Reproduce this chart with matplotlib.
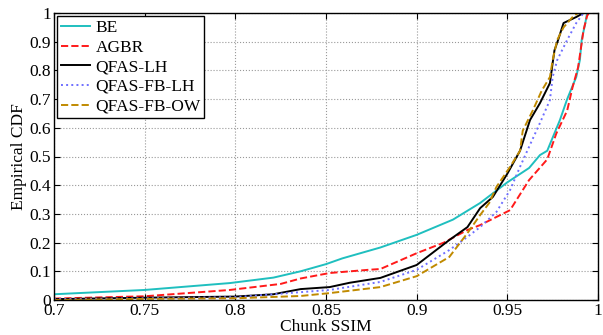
import matplotlib
matplotlib.use('Agg')
import matplotlib.pyplot as plt

# points (chunk SSIM, cumulative fraction)
be_x = [0.70, 0.75, 0.797, 0.821, 0.836, 0.850, 0.859, 0.880, 0.900, 0.920,
        0.935, 0.950, 0.962, 0.968, 0.972, 0.979, 0.983, 0.988, 0.990, 0.991,
        0.993, 0.994]
be_y = [0.020, 0.035, 0.059, 0.078, 0.100, 0.125, 0.145, 0.183, 0.227, 0.280,
        0.338, 0.410, 0.460, 0.505, 0.520, 0.627, 0.700, 0.777, 0.836, 0.906,
        0.965, 1.000]

agbr_x = [0.70, 0.75, 0.797, 0.825, 0.836, 0.852, 0.873, 0.880, 0.900, 0.915,
          0.928, 0.935, 0.9515, 0.962, 0.972, 0.977, 0.983, 0.986, 0.989,
          0.991, 0.992, 0.994, 0.995]
agbr_y = [0.005, 0.013, 0.035, 0.056, 0.075, 0.094, 0.105, 0.108, 0.163, 0.200,
          0.244, 0.261, 0.313, 0.418, 0.490, 0.580, 0.660, 0.742, 0.810,
          0.895, 0.940, 0.990, 1.000]

lh_x = [0.70, 0.75, 0.80, 0.821, 0.836, 0.852, 0.863, 0.880, 0.900, 0.918,
        0.928, 0.935, 0.942, 0.950, 0.957, 0.9625, 0.968, 0.9735, 0.975,
        0.976, 0.978, 0.981, 0.988, 0.992]
lh_y = [0.003, 0.008, 0.012, 0.020, 0.038, 0.045, 0.060, 0.077, 0.122, 0.209,
        0.254, 0.320, 0.359, 0.440, 0.520, 0.627, 0.686, 0.756, 0.826,
        0.870, 0.906, 0.965, 0.986, 1.000]

fblh_x = [0.70, 0.75, 0.80, 0.852, 0.880, 0.900, 0.918, 0.928, 0.935, 0.944,
          0.9515, 0.957, 0.961, 0.968, 0.9735, 0.975, 0.9775, 0.983, 0.988,
          0.992]
fblh_y = [0.003, 0.006, 0.010, 0.035, 0.063, 0.105, 0.174, 0.220, 0.254, 0.307,
          0.383, 0.464, 0.520, 0.617, 0.697, 0.777, 0.836, 0.906, 0.965,
          1.000]

fbow_x = [0.70, 0.75, 0.80, 0.836, 0.852, 0.880, 0.900, 0.918, 0.928, 0.935,
          0.940, 0.944, 0.9515, 0.957, 0.9585, 0.964, 0.969, 0.9735, 0.975,
          0.9775, 0.981, 0.986, 0.989]
fbow_y = [0.000, 0.004, 0.006, 0.014, 0.024, 0.045, 0.083, 0.150, 0.233, 0.296,
          0.338, 0.394, 0.464, 0.520, 0.590, 0.660, 0.730, 0.777, 0.836,
          0.906, 0.950, 0.986, 1.000]

labels = ['BE', 'AGBR', 'QFAS-LH', 'QFAS-FB-LH', 'QFAS-FB-OW']
x_ticks = [0.7, 0.75, 0.8, 0.85, 0.9, 0.95, 1]
x_tick_labels = ['0.7', '0.75', '0.8', '0.85', '0.9', '0.95', '1']
y_ticks = [0, 0.1, 0.2, 0.3, 0.4, 0.5, 0.6, 0.7, 0.8, 0.9, 1]
y_tick_labels = ['0', '0.1', '0.2', '0.3', '0.4', '0.5', '0.6', '0.7', '0.8',
                 '0.9', '1']

plt.rcParams['font.family'] = ['Liberation Serif', 'DejaVu Serif']
plt.rcParams['font.size'] = 12.5

fig = plt.figure(figsize=(6.03, 3.35), dpi=100)
ax = fig.add_axes([54 / 603, 1 - 300 / 335, 544 / 603, 287 / 335])

ax.plot(be_x, be_y, '-', color='#1fbfbf', lw=1.4, label=labels[0])
ax.plot(agbr_x, agbr_y, '--', color='#ff1a1a', lw=1.4, label=labels[1])
ax.plot(lh_x, lh_y, '-', color='black', lw=1.4, label=labels[2])
ax.plot(fblh_x, fblh_y, ':', color='#6f6fff', lw=1.4, label=labels[3])
ax.plot(fbow_x, fbow_y, '--', color='#c08a00', lw=1.4, label=labels[4])

ax.set_xlim(0.7, 1)
ax.set_ylim(0, 1)
ax.set_xticks(x_ticks)
ax.set_xticklabels(x_tick_labels)
ax.set_yticks(y_ticks)
ax.set_yticklabels(y_tick_labels)
ax.tick_params(direction='in', top=True, right=True, length=4, pad=2)
ax.grid(True, linestyle=':', color='#999999', lw=0.8)
for s in ax.spines.values():
    s.set_linewidth(1.0)

ax.set_xlabel('Chunk SSIM', labelpad=0)
ax.set_ylabel('Empirical CDF', labelpad=2)

leg = ax.legend(loc='upper left', fancybox=False, framealpha=1,
                edgecolor='black', handlelength=1.7, handletextpad=0.3,
                borderpad=0.2, labelspacing=0.2, borderaxespad=0.2)
leg.get_frame().set_linewidth(1.0)

fig.savefig('out.png', dpi=100)
